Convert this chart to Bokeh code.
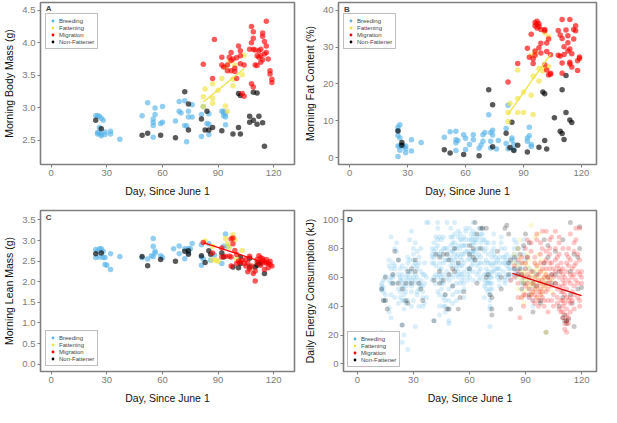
from bokeh.plotting import figure
from bokeh.layouts import column, row
from bokeh.models import Range1d, FixedTicker, NumeralTickFormatter, Legend, LegendItem, Label
from bokeh.embed import file_html
from bokeh.resources import INLINE

# ---------------- data ----------------
categories = ["Breeding", "Fattening", "Migration", "Non-Fattener"]
colors = {"Breeding": "#56B4E9", "Fattening": "#F0E442", "Migration": "#FF0000", "Non-Fattener": "#000000"}
x_ticks = [0, 30, 60, 90, 120]

# Panel A: morning body mass (g)
A_breed = [(24,2.88),(25,2.88),(26,2.87),(27,2.84),(28,2.81),(25,2.62),(26,2.61),(27,2.59),(26,2.70),(27,2.57),
           (29,2.63),(29,2.59),(32,2.64),(32,2.60),(37,2.52),(25,2.60),
           (49,2.88),(52,3.08),(55,2.83),(55,2.78),(55,2.73),(56,3.00),(56,2.90),(55,2.55),(60,3.02),(60,2.78),
           (59,2.76),(67,2.80),(69,3.10),(69,2.95),(70,2.92),(72,3.11),(72,2.73),(73,2.72),(73,2.48),(74,2.95),
           (76,3.05),(74,2.86),(76,2.86),(81,2.90),(81,2.56),(82,3.02),(84,2.76),(85,2.75),(85,2.59),(85,2.91),
           (92,2.95),(93,2.88),(94,2.86),(93,2.95),(94,2.91),(94,2.74),(93,2.92)]
A_nonf = [(24,2.81),(27,2.68),(49,2.58),(52,2.61),(59,2.58),(67,2.54),(72,3.25),(74,3.06),(74,2.66),(81,2.83),
          (83,2.66),(84,2.95),(85,2.66),(87,2.70),(92,2.65),(98,2.60),(101,3.22),(102,3.19),(101,2.70),(102,2.60),
          (107,2.87),(107,2.78),(109,2.81),(111,2.75),(112,2.87),(114,2.77),(115,2.41),(109,3.24),(111,3.23)]
A_fat = [(82,3.17),(83,3.29),(82,3.02),(87,3.15),(87,3.07),(87,3.37),(90,3.27),(92,3.45),(94,3.03),(95,2.95),
         (94,3.63),(98,3.34),(98,3.44),(99,3.66),(103,3.51),(104,3.81),(96,3.71)]
A_mig = [(82,3.67),(87,3.45),(88,4.05),(92,3.78),(92,3.66),(93,3.63),(95,3.66),(96,3.78),(97,3.85),(97,3.73),
         (98,3.75),(95,3.57),(97,3.57),(99,3.61),(99,3.56),(100,3.45),(101,3.95),(102,3.88),(102,3.80),(100,3.77),
         (102,3.68),(103,3.22),(104,3.18),(104,3.66),(108,4.25),(109,4.17),(109,4.07),(109,3.90),(110,3.66),(111,3.80),
         (108,3.37),(109,3.32),(113,3.90),(114,4.10),(114,4.15),(115,4.02),(116,3.95),(116,4.33),(115,3.83),(113,3.80),
         (116,3.85),(112,3.88),(117,3.75),(118,3.52),(119,3.44),(119,3.39),(118,3.57),(112,3.78),(114,3.74),(107,3.90),
         (108,4.00),(111,3.65),(113,3.70),(110,3.89)]
A_fit = [(82,3.09),(104,3.60)]

# Panel B: morning fat content (%)
B_breed = [(25,8.3),(26,8.9),(25,7.4),(25,6.0),(26,5.3),(25,3.1),(26,3.1),(26,2.0),(25,0.3),(29,3.1),(29,2.4),(29,1.3),
           (32,4.8),(32,1.8),(37,4.1),(27,3.4),(28,3.0),
           (49,5.5),(52,7.0),(55,7.1),(55,4.8),(55,4.0),(55,1.9),(56,4.6),(59,6.2),(60,5.2),(60,2.2),(62,3.5),(64,6.2),
           (64,4.8),(67,2.5),(68,3.4),(69,6.2),(69,4.4),(70,6.8),(72,11.6),(73,6.8),(73,4.4),(73,2.6),(74,7.4),(74,6.1),
           (77,4.6),(76,2.3),(81,7.9),(81,3.8),(82,2.4),(82,14.2),(84,5.3),(84,4.7),(85,3.5),(85,2.2),(92,4.4),(92,5.3),
           (93,8.2),(93,5.9),(94,3.5),(94,3.0)]
B_nonf = [(25,7.2),(27,4.1),(27,3.3),(49,2.1),(52,1.2),(59,0.8),(67,0.5),(72,18.4),(74,14.3),(74,2.9),(81,6.6),
          (83,2.7),(84,9.6),(85,1.9),(87,3.3),(92,1.5),(98,2.8),(100,17.8),(101,17.3),(101,4.6),(102,2.3),(106,10.8),
          (109,7.1),(110,6.5),(110,18.4),(111,4.9),(112,22.3),(112,12.2),(114,10.2),(115,9.5)]
B_fat = [(82,9.8),(82,12.2),(83,14.7),(87,16.0),(87,12.2),(87,23.8),(90,12.2),(90,17.8),(95,22.1),(94,16.9),
         (95,11.7),(98,20.8),(98,24.2),(94,27.7),(96,28.5),(101,33.9),(103,32.8),(103,24.7),(101,24.2),(100,23.5)]
B_mig = [(82,20.5),(87,25.5),(92,29.7),(93,27.2),(94,33.5),(95,26.8),(96,28.9),(96,27.8),(95,25.5),(96,36.7),
         (96,35.8),(97,35.2),(98,35.6),(98,36.3),(97,37.0),(97,36.2),(99,34.8),(98,29.8),(99,28.4),(99,31.0),
         (101,34.4),(101,34.8),(102,28.8),(102,31.1),(103,32.2),(101,25.2),(102,23.8),(103,22.4),(104,22.9),(104,22.6),
         (110,37.5),(114,37.5),(108,34.5),(109,33.3),(110,32.3),(111,30.1),(111,28.0),(108,27.8),(109,27.6),(110,25.7),
         (113,33.1),(113,31.2),(114,29.5),(115,28.2),(116,32.2),(116,34.8),(117,35.8),(117,34.4),(112,34.6),(113,28.9),
         (114,25.9),(114,25.4),(118,23.6),(118,26.3),(119,26.9),(119,27.3),(115,24.6),(110,22.9),(104,27.9)]
B_fit = [(82,11.7),(104,28.1)]

# Panel C: morning lean mass (g)
C_breed = [(24,2.78),(25,2.74),(26,2.80),(27,2.80),(28,2.74),(24,2.59),(26,2.60),(28,2.59),(29,2.59),(29,2.42),
           (30,2.40),(32,2.68),(32,2.30),(37,2.61),
           (49,2.58),(52,2.55),(55,3.05),(55,2.86),(56,2.74),(56,2.70),(54,2.63),(55,2.61),(59,2.63),(60,2.59),
           (66,2.80),(69,2.87),(69,2.68),(72,2.80),(72,2.56),(74,2.81),(75,2.80),(76,2.93),(74,2.70),(81,2.90),
           (81,2.40),(81,2.60),(82,2.55),(85,2.92),(94,3.16),(93,2.86),(92,2.44),(95,2.86),(86,2.52),(88,2.65)]
C_nonf = [(24,2.68),(27,2.70),(49,2.61),(52,2.39),(59,2.54),(67,2.50),(72,2.74),(74,2.75),(74,2.67),(81,2.63),
          (83,2.47),(85,2.75),(86,2.67),(92,2.70),(93,2.60),(98,2.36),(101,2.34),(102,2.44),(102,2.60),(107,2.36),
          (107,2.57),(110,2.36),(112,2.47),(111,2.40),(115,2.20),(113,2.44)]
C_fat = [(83,2.99),(87,2.86),(87,2.53),(89,2.52),(94,3.05),(95,2.92),(98,3.14),(99,3.02),(103,2.76),(96,2.84),
         (90,2.50),(100,2.55)]
C_mig = [(82,2.95),(87,2.70),(92,2.82),(92,2.60),(94,2.62),(96,2.62),(97,2.60),(97,3.04),(98,3.06),(98,2.92),
         (99,2.76),(100,2.66),(97,2.38),(100,2.44),(101,2.50),(102,2.48),(103,2.53),(104,2.44),(105,2.54),(105,2.38),
         (106,2.46),(107,2.62),(107,2.31),(108,2.38),(110,2.26),(111,2.54),(111,2.46),(112,2.63),(113,2.58),(114,2.51),
         (115,2.48),(116,2.54),(117,2.46),(118,2.50),(118,2.42),(119,2.38),(117,2.34),(115,2.30),(110,2.02),(109,2.20),
         (106,2.24),(113,2.40),(116,2.45),(114,2.56)]
C_fit = [(82,2.95),(118,2.42)]

# Panel D: daily energy consumption (kJ), values per day
D_breed = [(13,[51,52,54,22,56]),(14,[44,53,50,58]),(15,[44,48,61]),(17,[39,36,58,68,72]),(18,[66,60,88,56,48,32]),
           (19,[56,60,62,70]),(20,[46,80,66,68]),(21,[78,56,84]),(22,[72,62,52,42]),(23,[60,58,46,50,66]),
           (24,[68,54,58,62,44,27,15]),(25,[20,52,56,48,38,44]),(26,[50,54,60,66,42]),(27,[70,74,62,58,44,10]),
           (28,[64,60,56,86,72]),(29,[92,64,54,50,40,58]),(30,[68,60,72,76,44,80]),(31,[56,62,70,58,26,84]),
           (32,[78,50,48,60,66,68]),(33,[52,40,70,74,56]),(34,[64,54,58,80]),(35,[46,50,54,62,40]),(36,[42,56,62,70]),
           (37,[98,60,46]),(38,[98]),(40,[58,70,76,80,74]),(41,[74,78,60,70,84,30]),(42,[62,56,80,68,88]),
           (43,[94,98,86,82,76,60,50]),(44,[88,76,70,66,62,48,40,34]),(45,[58,52,56,60,66,74,78,86]),
           (46,[40,46,56,62,70,80,88]),(47,[36,40,44,48,72,80]),(48,[60,64,72,76,80,98]),(49,[28,30,38,44,52,58]),
           (50,[62,68,72,74,78,82,88,94]),(51,[42,48,54,60,70,78,84,88]),(52,[72,76,80,84,90,98]),
           (53,[44,50,56,62,66,68,74,80]),(54,[60,64,70,76,82,88,92]),(55,[50,56,62,68,74,80,86,90]),
           (56,[58,62,68,72,76,82,86]),(57,[46,52,56,60,64,70,76,82,88]),(58,[78,82,86,92,94]),(59,[58,62,66,72,78]),
           (60,[60,64,66,74,76,86,94]),(61,[68,72,78,82,86,90]),(62,[58,64,70,76,78,84,88,92,98]),(63,[72,78,84,86,90]),
           (64,[62,68,74,80,86]),(65,[58,64,70,76,80,88,94]),(66,[60,66,70,74,84,90]),(67,[80,86,90,94]),
           (68,[46,54,58,62,70,78,86]),(69,[52,56,62,66,72,80,84]),(70,[50,56,58,64,70,76,84]),
           (71,[26,38,40,44,48,52,56,60,62,70]),(72,[52,56,60,64,68,74,78]),(73,[64,70,76,80,84,90]),(74,[66,70,74]),
           (75,[60,62,66,72]),(76,[54,58,62,66,70,74]),(77,[80,84,88]),(78,[70,74,64]),(79,[56,58,60,70,74,80]),
           (80,[62,68,72,76]),(81,[60,66,70]),(82,[58,62,66,70,74]),(84,[62,66,72,76,80,86]),(85,[60,64,70,74,84]),
           (86,[62,66,70]),(88,[56,58,62,66,70]),(89,[76,80,86]),(90,[56,60,66,72]),(92,[46,52,58,60,66]),(94,[40,44,54])]
D_nonf = [(13,[52]),(14,[44]),(15,[44,60]),(16,[38]),(19,[56,62]),(20,[78]),(22,[72,56]),(24,[52,27]),(26,[56,44]),
          (27,[64,42]),(29,[66,56]),(31,[72,64]),(33,[56]),(34,[52]),(35,[44]),(41,[58,30]),(42,[76]),(44,[64,74,56]),
          (46,[76,58]),(47,[48]),(48,[38,76]),(49,[72,62,38]),(51,[66,54]),(52,[80,64]),(54,[70,38]),(55,[46]),(57,[50]),
          (60,[82,76,66]),(62,[80,74]),(63,[72,98]),(64,[90,56]),(66,[94,80]),(67,[94]),(69,[94,60]),(70,[62]),(71,[48]),
          (72,[46,38,34]),(75,[78]),(77,[60,52]),(79,[94]),(80,[96]),(81,[90,70,62]),(82,[72,38]),(84,[74,66]),
          (86,[80,62]),(87,[76,66]),(88,[62,52]),(89,[82,56]),(90,[90]),(91,[74]),(92,[84,48]),(94,[64,56,36]),
          (96,[54,62]),(98,[44,42]),(100,[86,70]),(101,[56,22]),(102,[74,60,82]),(104,[62,56]),(106,[78,56,62]),
          (108,[40,64]),(110,[86,46,32]),(111,[30,34]),(112,[28,30]),(113,[31]),(114,[98,64,48]),(115,[42]),
          (116,[76,26]),(118,[74,52]),(119,[80,95]),(120,[53])]
D_fat = [(84,[76,70]),(86,[80,68,60,52]),(87,[74,86]),(88,[70,64,58,46]),(89,[62,56,50,42]),(90,[70,64,58]),
         (91,[76,68,60,52]),(92,[72,66,58,54]),(93,[96,62,56,48]),(94,[60,54,50]),(95,[88,70,64,56]),(96,[66,60,52,46]),
         (97,[90,76,68,58]),(98,[72,64,56,50]),(99,[60,54,48]),(100,[64,58,52]),(101,[62,56,22]),(102,[60,54]),
         (104,[58,50])]
D_mig = [(82,[58]),(84,[68,60]),(86,[64,72,56,46]),(87,[32]),(88,[74,70,62,46]),(89,[60,48,40]),(90,[80,70,66,54,48]),
         (91,[86,74,62,56]),(92,[60,52,46]),(93,[84,78,64,48]),(94,[56,50,44]),(95,[74,70,60,52,48,42]),
         (96,[90,86,68,54,46]),(97,[62,58,50,44,40]),(98,[84,76,70,64,56,52,48]),(99,[92,80,66,58,50,46]),
         (100,[70,60,54,44,40]),(101,[92,78,72,66,62,50]),(102,[60,56,52,44,36]),(103,[86,80,76,70,66,58]),
         (104,[88,70,62,54,44]),(105,[66,60,48,40]),(106,[92,80,72,64,56]),(107,[74,68,52,46,42]),
         (108,[88,84,76,66,60,54,38]),(109,[70,64,50,44,36]),(110,[80,66,62,58,54,50,44,40,36,32]),
         (111,[60,56,48,42,28,24]),(112,[76,70,64,52,46,38,34,30,22]),(113,[80,74,68,58,44,32,28]),
         (114,[90,72,62,56,46,42,36]),(115,[66,60,50,44]),(116,[84,78,68,62,54,48,38]),(117,[94,86,70,58]),
         (118,[76,64,56,46]),(119,[94,72,62,44,40]),(120,[64,60,56])]
D_fit = [(83,62.7),(120,47.3)]

FONT = "Liberation Sans"
GREY = "#7f7f7f"
NAN = float("nan")


def unzip(pts):
    return [p[0] for p in pts], [p[1] for p in pts]


def flatten(groups):
    xs, ys = [], []
    for d, vals in groups:
        for v in vals:
            xs.append(d)
            ys.append(v)
    return xs, ys


def make_fig(width, height, xr, yr, yticks, ylabel, fmt, left, right, top, bottom):
    p = figure(width=width, height=height, x_range=Range1d(*xr), y_range=Range1d(*yr),
               output_backend="svg", toolbar_location=None,
               min_border_left=left, min_border_right=right, min_border_top=top, min_border_bottom=bottom)
    p.xgrid.visible = False
    p.ygrid.visible = False
    p.outline_line_color = GREY
    p.outline_line_width = 1.6
    p.background_fill_color = "white"
    p.border_fill_color = "white"
    p.xaxis.ticker = FixedTicker(ticks=x_ticks)
    p.yaxis.ticker = FixedTicker(ticks=yticks)
    p.yaxis.formatter = NumeralTickFormatter(format=fmt)
    p.xaxis.axis_label = "Day, Since June 1"
    p.yaxis.axis_label = ylabel
    for ax in (p.xaxis, p.yaxis):
        ax.axis_line_color = None
        ax.major_tick_line_color = GREY
        ax.major_tick_out = 3
        ax.major_tick_in = 0
        ax.minor_tick_line_color = None
        ax.major_label_text_color = "#7a7a7a"
        ax.major_label_text_font = FONT
        ax.major_label_text_font_size = "9.5px"
        ax.major_label_standoff = 2
        ax.axis_label_text_font = FONT
        ax.axis_label_text_font_size = "10.5px"
        ax.axis_label_text_font_style = "normal"
        ax.axis_label_text_color = "#111111"
    p.xaxis.axis_label_standoff = 6
    p.yaxis.axis_label_standoff = 4
    return p


def add_points(p, groups, alpha, size):
    for pts, cat in groups:
        xs, ys = pts
        p.scatter(xs, ys, size=size, fill_color=colors[cat], fill_alpha=alpha, line_color=None)


def add_legend(p, loc):
    items = []
    for cat in categories:
        # legend-only renderer: one NaN row so that the legend glyph is drawn
        r = p.scatter(x=[NAN], y=[NAN], size=7, fill_color=colors[cat], line_color=None)
        items.append(LegendItem(label=cat, renderers=[r]))
    leg = Legend(items=items, location=loc)
    leg.label_text_font = FONT
    leg.label_text_font_size = "6px"
    leg.label_height = 7
    leg.glyph_height = 7
    leg.glyph_width = 7
    leg.label_standoff = 3
    leg.spacing = 0
    leg.padding = 3
    leg.margin = 0
    leg.border_line_color = GREY
    leg.border_line_width = 1
    leg.background_fill_alpha = 1
    p.add_layout(leg)


def add_letter(p, x, y, txt):
    p.add_layout(Label(x=x, y=y, text=txt, text_font=FONT, text_font_style="bold",
                       text_font_size="8px", text_baseline="middle", text_align="left"))


def add_fit(p, pts, color):
    xs, ys = unzip(pts)
    p.line(xs, ys, line_color=color, line_width=1.3)


W1, W2 = 300, 300
H1, H2 = 200, 206

# A
pA = make_fig(W1, H1, (-5.8, 131.2), (2.13, 4.62), [2.5, 3.0, 3.5, 4.0, 4.5], "Morning Body Mass (g)", "0.0",
              36, 6, 2, 36)
add_points(pA, [(unzip(A_breed), "Breeding"), (unzip(A_nonf), "Non-Fattener"),
                (unzip(A_fat), "Fattening"), (unzip(A_mig), "Migration")], 0.65, 5.5)
add_fit(pA, A_fit, "#F0E442")
add_legend(pA, (5, 162 - 13 - 34))
add_letter(pA, -3, 4.53, "A")

# B
pB = make_fig(W2, H1, (-5.8, 127.8), (-1.9, 42.1), [0, 10, 20, 30, 40], "Morning Fat Content (%)", "0",
              38, 4, 2, 36)
add_points(pB, [(unzip(B_breed), "Breeding"), (unzip(B_nonf), "Non-Fattener"),
                (unzip(B_fat), "Fattening"), (unzip(B_mig), "Migration")], 0.65, 5.5)
add_fit(pB, B_fit, "#F0E442")
add_legend(pB, (5, 162 - 13 - 34))
add_letter(pB, -3, 40.3, "B")

# C
pC = make_fig(W1, H2, (-5.8, 131.2), (-0.18, 3.73), [0.0, 0.5, 1.0, 1.5, 2.0, 2.5, 3.0, 3.5], "Morning Lean Mass (g)",
              "0.0", 36, 6, 10, 34)
add_points(pC, [(unzip(C_breed), "Breeding"), (unzip(C_nonf), "Non-Fattener"),
                (unzip(C_fat), "Fattening"), (unzip(C_mig), "Migration")], 0.65, 5.5)
add_fit(pC, C_fit, "#FF0000")
add_legend(pC, (5, 5))
add_letter(pC, -3, 3.56, "C")

# D
pD = make_fig(W2, H2, (-7.4, 128.0), (-5.2, 106.3), [0, 20, 40, 60, 80, 100], "Daily Energy Consumption (kJ)", "0",
              38, 4, 10, 34)
add_points(pD, [(flatten(D_breed), "Breeding"), (flatten(D_nonf), "Non-Fattener"),
                (flatten(D_fat), "Fattening"), (flatten(D_mig), "Migration")], 0.22, 5)
add_fit(pD, D_fit, "#E00000")
add_legend(pD, (4, 4))
add_letter(pD, -5.5, 100, "D")

layout = column(row(pA, pB), row(pC, pD))
open("out.html", "w").write(file_html(layout, INLINE))
